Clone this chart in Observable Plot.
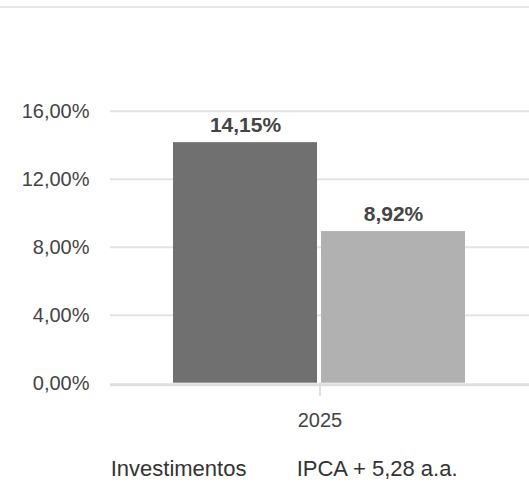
<!DOCTYPE html>
<html>
<head>
<meta charset="utf-8">
<script src="https://cdn.jsdelivr.net/npm/d3@7"></script>
<script src="https://cdn.jsdelivr.net/npm/@observablehq/plot@0.6"></script>
<style>
  html, body { margin: 0; padding: 0; background: #fff; }
  body { position: relative; width: 529px; height: 482px; overflow: hidden; font-family: "Liberation Sans", Arial, sans-serif; }
  #topline { position: absolute; left: 0; top: 6px; width: 529px; height: 0; border-top: 2px solid #e6e6e6; }
  #chart { position: absolute; left: 0; top: 8px; }
  .leg { position: absolute; top: 458px; font-size: 22px; line-height: 22px; color: #333; white-space: nowrap; }
</style>
</head>
<body>
<div id="topline"></div>
<div id="chart"></div>
<div id="legend"></div>
<script>
const series = ["Investimentos", "IPCA + 5,28 a.a."];
const values = [14.15, 8.92];
const year = "2025";
const yTicks = [0, 4, 8, 12, 16];
const colors = ["#707070", "#b1b1b1"];

const fmt = d => d.toFixed(2).replace(".", ",");
const data = series.map((s, i) => ({year, series: s, value: values[i]}));

const chart = Plot.plot({
  width: 529,
  height: 440,
  marginLeft: 110,
  marginRight: 0,
  marginTop: 102.7,
  marginBottom: 65.3,
  style: {fontFamily: "'Liberation Sans', Arial, sans-serif", background: "white", overflow: "visible"},
  fx: {domain: [year], padding: 0, label: null},
  x: {domain: series, paddingInner: 0.027, paddingOuter: 0.42, axis: null},
  y: {domain: [0, 16], axis: null},
  color: {domain: series, range: colors},
  marks: [
    Plot.ruleY(yTicks.filter(d => d > 0), {stroke: "#e3e3e3", strokeWidth: 2}),
    Plot.ruleY([0], {stroke: "#dedede", strokeWidth: 3, dy: 1.5}),
    Plot.barY(data, {fx: "year", x: "series", y: "value", fill: "series"}),
    Plot.text(data, {fx: "year", x: "series", y: "value", text: d => fmt(d.value) + "%", dy: -11, lineAnchor: "bottom", fontWeight: "bold", fontSize: 21, fill: "#444"}),
    Plot.axisY({ticks: yTicks, tickSize: 0, tickPadding: 21, tickFormat: d => fmt(d) + "%", fontSize: 20, fill: "#444", label: null}),
    Plot.axisFx({anchor: "bottom", tickSize: 13, stroke: "#dddddd", strokeWidth: 2, tickPadding: 17, fontSize: 20, fill: "#444", label: null})
  ]
});
document.getElementById("chart").appendChild(chart);

const xs = [110.7, 296.7];
const legend = document.getElementById("legend");
series.forEach((s, i) => {
  const sp = document.createElement("span");
  sp.className = "leg";
  sp.style.left = xs[i] + "px";
  sp.textContent = s;
  legend.appendChild(sp);
});
</script>
</body>
</html>
